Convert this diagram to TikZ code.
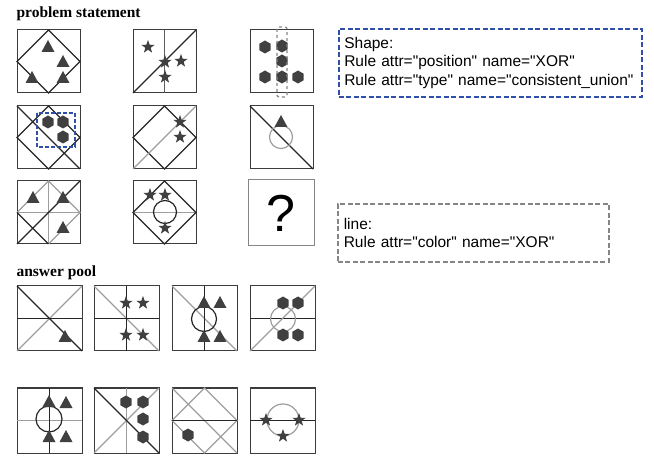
\documentclass[tikz,border=0pt]{standalone}
\usepackage{fontspec}
\setmainfont{Liberation Serif}
\newfontfamily\arial{Liberation Sans}
\usetikzlibrary{positioning}
\definecolor{boxblue}{HTML}{3050A8}
\definecolor{boxgray}{HTML}{858585}
\definecolor{lgray}{HTML}{9E9E9E}
\definecolor{dk}{HTML}{262626}
\definecolor{shp}{HTML}{404040}
\tikzset{
  panel/.style={draw=dk!90,line width=1pt,minimum size=63pt,inner sep=0pt,outer sep=0pt},
  apanel/.style={panel,minimum size=65pt},
  bl/.style={draw=dk,line width=1.2pt},
  gl/.style={draw=lgray,line width=1.2pt},
  tri/.pic={\fill[shp] (0,-7) -- (6.5,5) -- (-6.5,5) -- cycle;},
  starshape/.pic={\fill[shp] (-90:7) -- (-54:2.8) -- (-18:7) -- (18:2.8) -- (54:7) -- (90:2.8) -- (126:7) -- (162:2.8) -- (198:7) -- (234:2.8) -- cycle;},
  hexshape/.pic={\fill[shp] (90:6.5) -- (150:6.5) -- (210:6.5) -- (270:6.5) -- (330:6.5) -- (30:6.5) -- cycle;},
  rulebox/.style={dash pattern=on 5pt off 2.5pt,line width=1.6pt,align=left,anchor=north west,
    font=\arial\fontsize{15.5}{18.3}\selectfont},
  heading/.style={anchor=base west,font=\bfseries\fontsize{15.5}{15.5}\selectfont}
}
\begin{document}
\begin{tikzpicture}[x=1pt,y=-1pt]
\useasboundingbox (0,0) rectangle (654,457);

\node[heading](title1) at (13,18){problem statement};
\node[heading](title2) at (13,277){answer pool};

\node[panel,anchor=north west](q1) at (17,30){};
\node[panel,right=53pt of q1](q2){};
\node[panel,right=54pt of q2](q3){};
\node[panel,below=13pt of q1](q4){};
\node[panel,right=53pt of q4](q5){};
\node[panel,right=54pt of q5](q6){};
\node[panel,below=12pt of q4](q7){};
\node[panel,right=53pt of q7](q8){};
\node[panel,draw=boxgray,minimum size=66pt,anchor=north west,font=\arial\fontsize{52}{52}\selectfont](q9) at (248,180){?};

\draw[bl] (q1.north) -- (q1.east) -- (q1.south) -- (q1.west) -- cycle;
\begin{scope}[shift={(q1.north west)}]
\pic at (31,17) {tri}; \pic at (46,32) {tri}; \pic at (15,48) {tri}; \pic at (46,48) {tri};
\end{scope}

\draw[bl,draw=dk!75] (q2.north) -- (q2.south);
\draw[bl] (q2.south west) -- (q2.north east);
\begin{scope}[shift={(q2.north west)}]
\pic at (15,17) {starshape}; \pic at (32,32) {starshape}; \pic at (48,31) {starshape}; \pic at (32,47) {starshape};
\end{scope}

\begin{scope}[shift={(q3.north west)}]
\pic at (15,17) {hexshape}; \pic at (32,16) {hexshape}; \pic at (32,31) {hexshape};
\pic at (15,47) {hexshape}; \pic at (32,47) {hexshape}; \pic at (48,47) {hexshape};
\draw[boxgray,dashed,rounded corners=2pt,line width=1.2pt] (27,-3) rectangle (37,67);
\end{scope}

\draw[bl] (q4.north) -- (q4.east) -- (q4.south) -- (q4.west) -- cycle;
\draw[bl] (q4.north west) -- (q4.south east);
\begin{scope}[shift={(q4.north west)}]
\pic at (31,16) {hexshape}; \pic at (46,16) {hexshape}; \pic at (46,31) {hexshape};
\draw[boxblue,dash pattern=on 4pt off 2pt,line width=1.4pt] (20,7) rectangle (58,41);
\end{scope}

\draw[bl] (q5.north) -- (q5.east) -- (q5.south) -- (q5.west) -- cycle;
\draw[gl] (q5.south west) -- (q5.north east);
\begin{scope}[shift={(q5.north west)}]
\pic at (47,16) {starshape}; \pic at (47,31) {starshape};
\end{scope}

\draw[bl] (q6.north west) -- (q6.south east);
\begin{scope}[shift={(q6.north west)}]
\draw[gl] (31,31) circle (11.5);
\pic at (31,16) {tri};
\end{scope}

\draw[gl] (q7.north) -- (q7.south);
\draw[gl] (q7.west) -- (q7.east);
\draw[gl] (q7.west) -- (q7.north) -- (q7.east) -- (q7.south);
\draw[bl] (q7.west) -- (q7.south);
\draw[bl] (q7.south west) -- (q7.north east);
\begin{scope}[shift={(q7.north west)}]
\pic at (16,17) {tri}; \pic at (46,17) {tri}; \pic at (46,47) {tri};
\end{scope}

\draw[gl] (q8.west) -- (q8.east);
\draw[bl] (q8.north) -- (q8.east) -- (q8.south) -- (q8.west) -- cycle;
\begin{scope}[shift={(q8.north west)}]
\draw[bl] (32,31) circle (11.5);
\pic at (17,14) {starshape}; \pic at (32,14) {starshape}; \pic at (32,47) {starshape};
\end{scope}

\node[rulebox,draw=boxblue,text width=292pt,inner xsep=5.5pt,minimum height=68pt](shaperule) at (338,28)
  {Shape:\\Rule attr="position" name="XOR"\\Rule attr="type" name="consistent\_union"};
\node[rulebox,draw=boxgray,text width=259pt,inner xsep=6pt,minimum height=58pt](linerule) at (337,203)
  {line:\\Rule attr="color" name="XOR"};

\node[apanel,anchor=north west](a1) at (17,286){};
\node[apanel,right=12pt of a1](a2){};
\node[apanel,right=13pt of a2](a3){};
\node[apanel,right=13pt of a3](a4){};
\node[apanel,below=37pt of a1](b1){};
\node[apanel,right=12pt of b1](b2){};
\node[apanel,right=13pt of b2](b3){};
\node[apanel,right=13pt of b3](b4){};

\draw[gl] (a1.south west) -- (a1.north east);
\draw[bl] (a1.north west) -- (a1.south east);
\draw[bl] (a1.west) -- (a1.east);
\begin{scope}[shift={(a1.north west)}]
\pic at (48,51) {tri};
\end{scope}

\draw[gl] (a2.north west) -- (a2.south east);
\draw[bl] (a2.north) -- (a2.south);
\draw[bl] (a2.west) -- (a2.east);
\begin{scope}[shift={(a2.north west)}]
\pic at (32,17) {starshape}; \pic at (49,17) {starshape}; \pic at (32,49) {starshape}; \pic at (49,49) {starshape};
\end{scope}

\draw[gl] (a3.north west) -- (a3.south east);
\draw[bl] (a3.north) -- (a3.south);
\begin{scope}[shift={(a3.north west)}]
\draw[bl] (32,33) circle (12.5);
\pic at (32,17) {tri}; \pic at (48,17) {tri}; \pic at (32,51) {tri}; \pic at (48,51) {tri};
\end{scope}

\draw[bl] (a4.west) -- (a4.east);
\draw[gl] (a4.south west) -- (a4.north east);
\begin{scope}[shift={(a4.north west)}]
\draw[gl] (33,33) circle (12.5);
\pic at (33,17) {hexshape}; \pic at (48,17) {hexshape}; \pic at (33,49) {hexshape}; \pic at (48,49) {hexshape};
\end{scope}

\draw[gl] (b1.west) -- (b1.east);
\draw[bl] (b1.north) -- (b1.south);
\begin{scope}[shift={(b1.north west)}]
\draw[bl] (32,31) circle (13);
\pic at (32,14) {tri}; \pic at (49,15) {tri}; \pic at (32,49) {tri}; \pic at (49,49) {tri};
\end{scope}

\draw[gl] (b2.north) -- (b2.south);
\draw[gl] (b2.south west) -- (b2.north east);
\draw[bl] (b2.north west) -- (b2.south east);
\begin{scope}[shift={(b2.north west)}]
\pic at (32,14) {hexshape}; \pic at (49,14) {hexshape}; \pic at (49,31) {hexshape}; \pic at (49,49) {hexshape};
\end{scope}

\draw[gl] (b3.north) -- (b3.east) -- (b3.south) -- (b3.west) -- cycle;
\draw[gl] (b3.north west) -- (b3.south east);
\draw[bl] (b3.west) -- (b3.east);
\begin{scope}[shift={(b3.north west)}]
\pic at (16,47) {hexshape};
\end{scope}

\draw[bl] (b4.west) -- (b4.east);
\begin{scope}[shift={(b4.north west)}]
\draw[gl] (33,32) circle (16);
\pic at (16,32) {starshape}; \pic at (49,32) {starshape}; \pic at (33,48) {starshape};
\end{scope}

\end{tikzpicture}
\end{document}
